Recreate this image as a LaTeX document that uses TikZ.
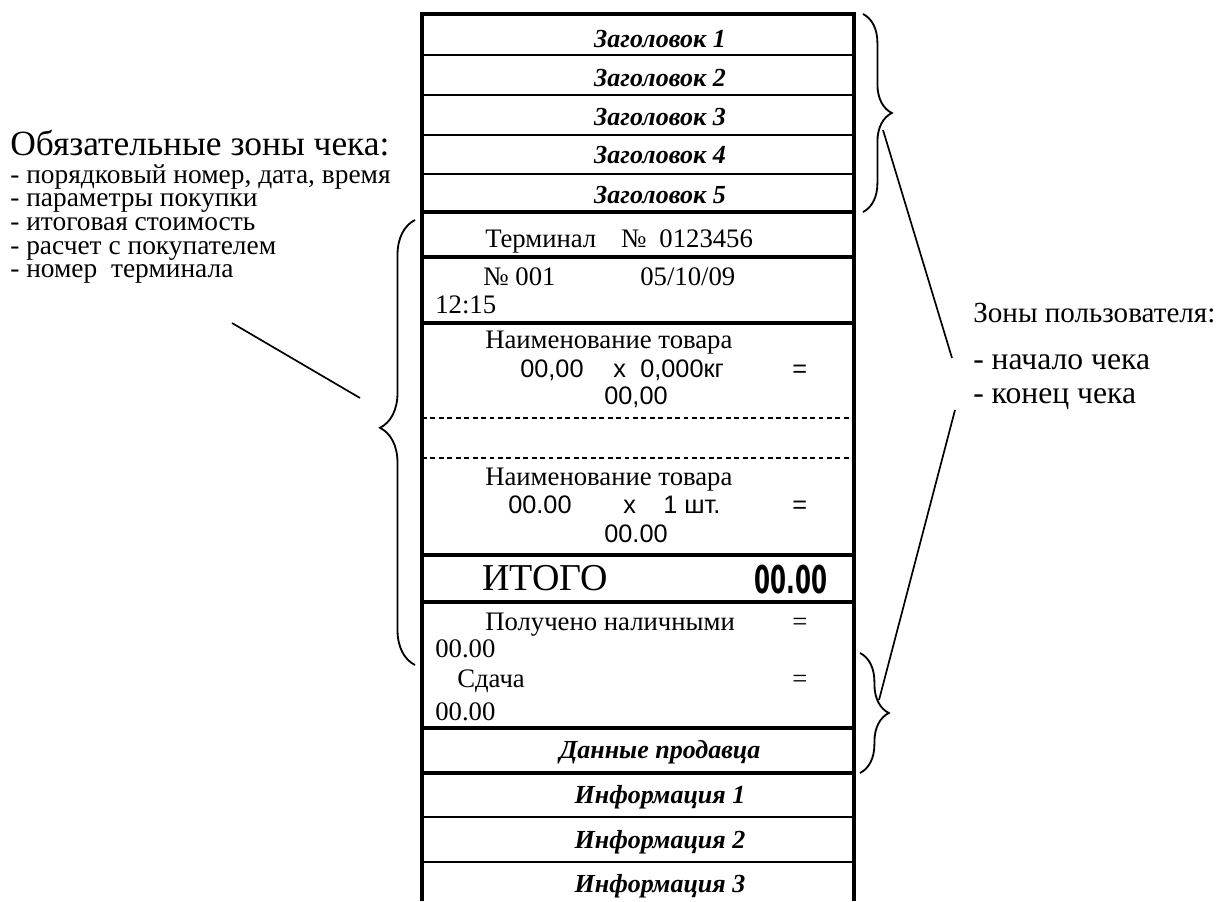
\documentclass[tikz,border=0pt]{standalone}
\usepackage{graphicx}
\usepackage{fontspec}
\setmainfont{Liberation Serif}
\newfontfamily\arialfont{Liberation Sans}
\newfontfamily\lcdfont{DejaVu Sans}
\usetikzlibrary{decorations.pathreplacing}
\begin{document}
\begin{tikzpicture}[x=0.025cm, y=-0.025cm, every node/.style={inner sep=0pt}, hdr/.style={anchor=base,font=\fontsize{18.5}{20}\selectfont\bfseries\itshape}, rcp/.style={anchor=base west,font=\fontsize{19}{21}\selectfont}, ari/.style={anchor=base west,font=\arialfont\fontsize{18}{20}\selectfont}, note/.style={anchor=base west,font=\fontsize{22.5}{24}\selectfont}, rulethick/.style={line width=2.6pt}, rulethin/.style={line width=1.4pt}, cutline/.style={line width=1.4pt,dash pattern=on 3.5pt off 2.5pt}, curly/.style={decorate,decoration={brace,amplitude=#1},line width=1.3pt}, link/.style={line width=1.2pt}]
\useasboundingbox (0,0) rectangle (1220,901);
% receipt strip
\draw[line width=2.8pt] (422,901) -- (422,14) -- (854,14) -- (854,901);
\foreach \y in {212,257,323,555,602,728,773} \draw[rulethick] (422,\y) -- (854,\y);
\foreach \y in {55,95,135,174,817,862} \draw[rulethin] (422,\y) -- (854,\y);
\foreach \y in {418,458} \draw[cutline] (422,\y) -- (854,\y);
% user zones
\foreach \y [count=\i] in {47,86,125,163,203} \node[hdr] (head\i) at (660,\y) {Заголовок \i};
\node[hdr] (seller) at (660,758) {Данные продавца};
\foreach \y [count=\i] in {803,848,892} \node[hdr] (info\i) at (660,\y) {Информация \i};
% mandatory zones
\node[rcp] (term) at (485,247) {Терминал\hspace{0.62cm}№\hspace{0.32cm}0123456};
\node[rcp] (num) at (483,285) {№ 001}; \node[rcp] (date) at (640,285) {05/10/09}; \node[rcp] (time) at (435,313) {12:15};
\node[rcp] (name1) at (485,348) {Наименование товара};
\node[ari] (price1) at (520,377) {00,00}; \node[ari] (x1) at (613,377) {x}; \node[ari] (qty1) at (640,377) {0,000кг}; \node[ari] (eq1) at (792,377) {=};
\node[ari,anchor=base] (sum1) at (636,404) {00,00};
\node[rcp] (name2) at (485,485) {Наименование товара};
\node[ari] (price2) at (508,513) {00.00}; \node[ari] (x2) at (623,513) {x}; \node[ari] (qty2) at (663,513) {1 шт.}; \node[ari] (eq2) at (792,513) {=};
\node[ari,anchor=base] (sum2) at (636,542) {00.00};
\node[rcp,font=\fontsize{27}{30}\selectfont] (total) at (482,590) {ИТОГО};
\node[anchor=base east,font=\lcdfont\bfseries\fontsize{27.3}{30}\selectfont] (totalv) at (828,593) {\scalebox{0.6}[1]{00.00}};
\node[rcp] (cash) at (485,630) {Получено наличными}; \node[rcp] (eq3) at (792,630) {=}; \node[rcp] (cashv) at (435,657) {00.00};
\node[rcp] (change) at (457,687) {Сдача}; \node[rcp] (eq4) at (792,687) {=}; \node[rcp] (changev) at (435,720) {00.00};
% left notes
\node[note,font=\fontsize{25.2}{26}\selectfont] (must) at (10,155) {Обязательные зоны чека:};
\node[anchor=north west,align=left,font=\fontsize{19.5}{16.85}\selectfont] (mustlist) at (10,164) {- порядковый номер, дата, время\\- параметры покупки\\- итоговая стоимость\\- расчет с покупателем\\- номер\ \ терминала};
% right notes
\node[note,font=\fontsize{20.7}{24}\selectfont] (user) at (973,322) {Зоны пользователя:};
\node[note] (user1) at (973,369) {- начало чека}; \node[note] (user2) at (973,403) {- конец чека};
% braces and pointers
\draw[curly=0.72cm] (863,14) -- (863,212);
\draw[curly=0.72cm] (860,653) -- (860,773);
\draw[curly=0.875cm,decoration={aspect=0.533}] (415,665) -- (415,220);
\coordinate (la) at (232,323); \coordinate (lb) at (360,398); \draw[link] (la) -- (lb);
\coordinate (ra) at (883,130); \coordinate (rb) at (952,358); \draw[link] (ra) -- (rb);
\coordinate (rc) at (955,410); \coordinate (rd) at (879,700); \draw[link] (rc) -- (rd);
\end{tikzpicture}
\end{document}
